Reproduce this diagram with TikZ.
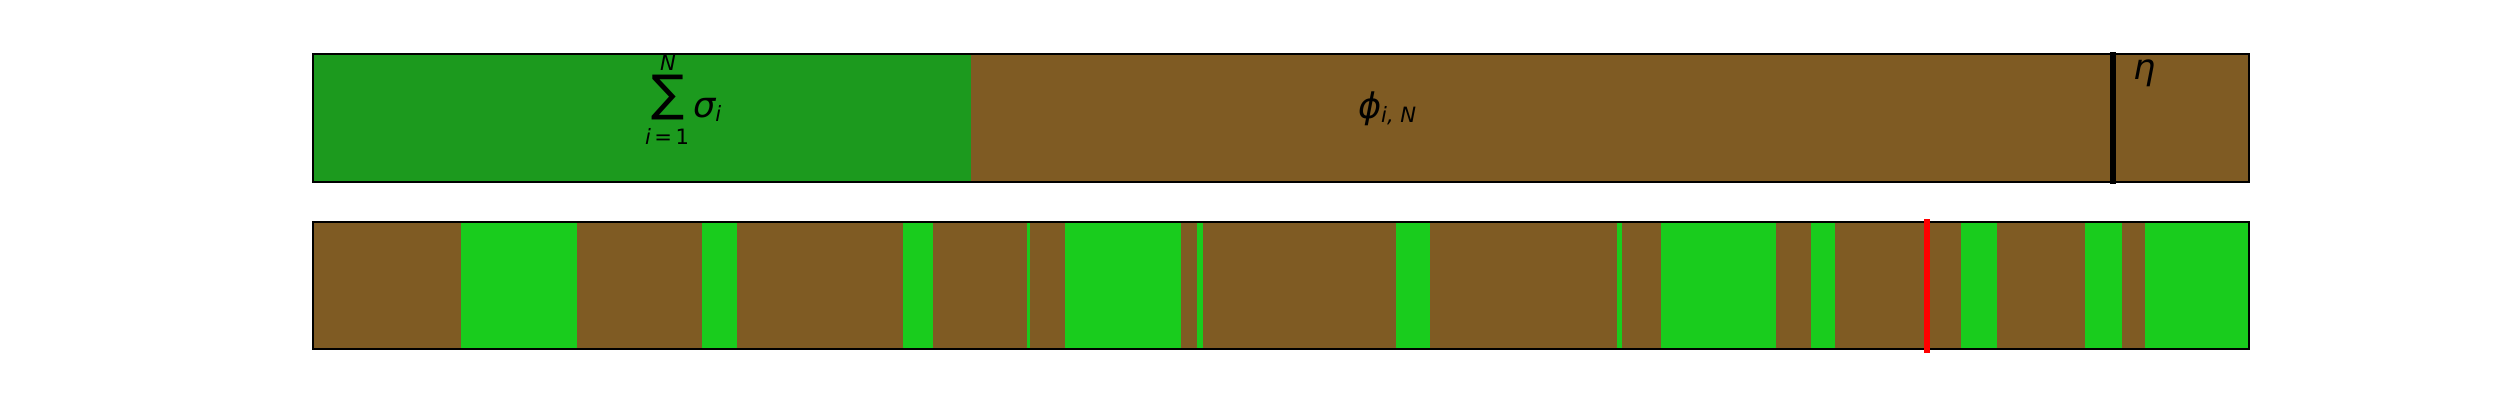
\documentclass[tikz,border=0pt]{standalone}
\usepackage{fontspec}
\setmainfont{DejaVu Sans}
\definecolor{topgreen}{RGB}{28,154,30}
\definecolor{barbrown}{RGB}{127,91,35}
\definecolor{bargreen}{RGB}{25,204,29}
\definecolor{markred}{RGB}{255,0,0}
\tikzset{
  frame/.style={draw=black, line width=0.6pt},
  seg/.style={fill=bargreen},
  marker/.style={line width=1.5pt},
  lbl/.style={inner sep=0pt, outer sep=0pt, font=\fontsize{10}{10}\selectfont\itshape},
  sublbl/.style={inner sep=0pt, outer sep=0pt, font=\fontsize{6}{6}\selectfont}
}
\begin{document}
\begin{tikzpicture}[x=0.01cm,y=-0.01cm]
\useasboundingbox (0,0) rectangle (2500,400);
% top bar
\fill[topgreen] (313,54) rectangle (971,182);
\fill[barbrown] (971,54) rectangle (2249,182);
\draw[frame] (313,54) rectangle (2249,182);
\coordinate (etaTop) at (2113,52);
\coordinate (etaBot) at (2113,184);
\draw[marker, black] (etaTop) -- (etaBot);
% bottom bar
\fill[barbrown] (313,222) rectangle (2249,349);
\foreach \a/\b in {461.1/577.1, 702.2/737.0, 903.0/933.2, 1027.0/1030.0, 1065.2/1181.2, 1196.9/1203.0, 1395.9/1429.9, 1617/1622, 1661/1776, 1811/1835, 1960.7/1997, 2085/2122, 2145/2249}
  \fill[seg] (\a,222) rectangle (\b,349);
\draw[frame] (313,222) rectangle (2249,349);
\coordinate (redTop) at (1927,219);
\coordinate (redBot) at (1927,353);
\draw[marker, markred] (redTop) -- (redBot);
% labels
\node[inner sep=0pt, anchor=center, font=\fontsize{14}{14}\selectfont] (sum) at (668,98) {∑};
\node[sublbl, anchor=base, font=\fontsize{6}{6}\selectfont\itshape] (sumN) at (668,70) {N};
\node[sublbl, anchor=base] (sumi) at (667,144) {\textit{i}\,=\,1};
\node[lbl, anchor=base west] (sigma) at (693,117) {σ\raisebox{-1.4pt}{\fontsize{6}{6}\selectfont\itshape i}};
\node[lbl, anchor=base west] (phi) at (1358,118) {ϕ\raisebox{-1.4pt}{\fontsize{6}{6}\selectfont\itshape i, N}};
\node[lbl, anchor=base west] (eta) at (2133,80) {η};
\end{tikzpicture}
\end{document}
